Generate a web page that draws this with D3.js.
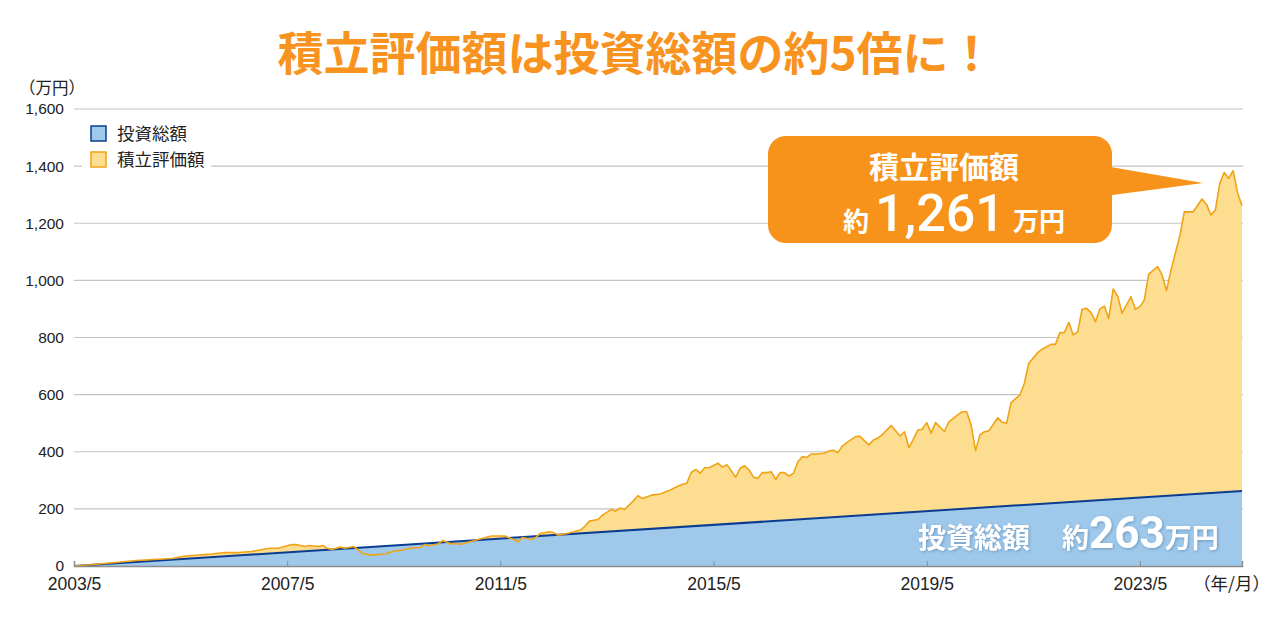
<!DOCTYPE html>
<html>
<head>
<meta charset="utf-8">
<script src="https://cdn.jsdelivr.net/npm/d3@7"></script>
<style>
  body { margin: 0; background: #fff; }
  text { font-family: "Liberation Sans", Arial, sans-serif; }
  .jp { font-family: "Noto Sans CJK JP", sans-serif; }
  .num { font-family: Roboto, "Liberation Sans", sans-serif; }
</style>
</head>
<body>
<div id="wrapper"></div>
<script>
// months counted from 2003/5 (0 = 2003/5)
const valMonths = [0,7,14,22,25,31,34,37,40,44,46,49,50,52,53,55,56,57,58,60,61,63,65,67,70,72,74,76,78,79,80,82,83,85,86,87,89,91,94,97,99,100,101,103,104,105,107,108,109,111,114,115,116,118,119,121,122,123,124,125,126,127,128,130,132,134,135,137,138,139,140,141,142,143,145,146,147,149,150,151,152,153,154,155,156,157,158,159,160,161,162,163,164,165,166,167,169,170,171,172,173,174,176,177,178,179,180,181,182,184,186,187,188,189,190,191,192,193,194,196,197,199,200,201,202,203,204,205,206,208,209,210,211,213,214,215,217,218,220,221,222,223,224,225,226,227,228,229,230,231,232,233,234,235,236,238,239,240,241,242,244,245,246,247,249,250,252,254,255,256,257,258,259,260,261,262,263]
const valValues = [0,9,19,26,35,42,47,47,51,62,62,75,75,68,72,68,72,62,58,66,62,68,44,38,42,52,56,63,65,75,71,77,89,77,79,76,84,93,105,105,93,86,100,93,100,114,120,117,108,114,126,138,157,163,178,198,192,203,198,213,229,246,236,248,252,264,272,286,290,328,338,325,344,344,360,346,355,311,342,351,336,311,307,327,327,330,303,327,327,315,325,365,383,380,392,392,395,403,405,397,420,432,453,454,438,424,441,448,460,492,455,470,414,444,476,479,502,465,502,471,505,529,540,540,494,404,459,470,473,519,503,500,572,599,640,710,747,759,776,776,817,817,853,809,820,899,902,887,855,900,910,867,970,945,885,943,899,908,931,1022,1048,1019,964,1036,1155,1240,1240,1285,1266,1229,1246,1340,1378,1357,1384,1307,1261]

const investMonths = [0, 263]
const investValues = [0, 263]

const yTicks = [0, 200, 400, 600, 800, 1000, 1200, 1400, 1600]
const xTicks = [0, 48, 96, 144, 192, 240]
const legendLabels = ["投資総額", "積立評価額"]

const valuation = valMonths.map((m, i) => [m, valValues[i]])
const invested = investMonths.map((m, i) => [m, investValues[i]])

const width = 1280
const height = 620
const plot = { left: 74, right: 1242, top: 109, bottom: 566 }

const svg = d3.select("#wrapper")
  .append("svg")
    .attr("width", width)
    .attr("height", height)

const defs = svg.append("defs")
const shadow = defs.append("filter")
    .attr("id", "shadow")
    .attr("x", "-10%").attr("y", "-20%")
    .attr("width", "120%").attr("height", "140%")
shadow.append("feDropShadow")
    .attr("dx", 1).attr("dy", 1)
    .attr("stdDeviation", 1.5)
    .attr("flood-color", "#3f6f9f")
    .attr("flood-opacity", 0.55)

const xScale = d3.scaleLinear()
  .domain([0, 263])
  .range([plot.left, plot.right])

const yScale = d3.scaleLinear()
  .domain([0, 1600])
  .range([plot.bottom, plot.top])

// grid
svg.append("g")
  .selectAll("line")
  .data(yTicks.slice(1))
  .enter().append("line")
    .attr("x1", plot.left)
    .attr("x2", plot.right + 1)
    .attr("y1", d => yScale(d))
    .attr("y2", d => yScale(d))
    .attr("stroke", "#c4c4c4")
    .attr("stroke-width", 1.2)

const area = d3.area()
  .x(d => xScale(d[0]))
  .y0(yScale(0))
  .y1(d => yScale(d[1]))

const line = d3.line()
  .x(d => xScale(d[0]))
  .y(d => yScale(d[1]))

svg.append("path")
  .datum(valuation)
  .attr("d", area)
  .attr("fill", "#fddd8f")

svg.append("path")
  .datum(invested)
  .attr("d", area)
  .attr("fill", "#9fc9eb")

svg.append("path")
  .datum(invested)
  .attr("d", line)
  .attr("fill", "none")
  .attr("stroke", "#0a3d91")
  .attr("stroke-width", 2)

svg.append("path")
  .datum(valuation)
  .attr("d", line)
  .attr("fill", "none")
  .attr("stroke", "#f0a316")
  .attr("stroke-width", 1.6)
  .attr("stroke-linejoin", "round")

// x axis
const monthLabel = m => `${2003 + Math.floor((4 + m) / 12)}/${(4 + m) % 12 + 1}`

const xAxis = svg.append("g")
  .attr("transform", `translate(0, ${plot.bottom})`)
  .call(d3.axisBottom(xScale)
    .tickValues(xTicks)
    .tickSize(-5)
    .tickPadding(12)
    .tickFormat(monthLabel))
xAxis.select(".domain")
  .attr("stroke", "#8c8c8c")
  .attr("stroke-width", 1.5)
xAxis.selectAll(".tick line").attr("stroke", "#8c8c8c")
xAxis.selectAll(".tick text")
  .attr("font-size", 17.5)
  .attr("fill", "#222")
  .attr("font-family", "'Liberation Sans', Arial, sans-serif")

svg.append("text")
  .attr("class", "jp")
  .attr("x", 1270)
  .attr("y", 590)
  .attr("text-anchor", "end")
  .attr("font-size", 17.5)
  .attr("fill", "#222")
  .text("（年/月）")

// y axis
const yAxis = svg.append("g")
  .attr("transform", `translate(${plot.left}, 0)`)
  .call(d3.axisLeft(yScale)
    .tickValues(yTicks)
    .tickSize(0)
    .tickPadding(10)
    .tickFormat(d3.format(",")))
yAxis.select(".domain").remove()
yAxis.selectAll(".tick text")
  .attr("font-size", 15.5)
  .attr("fill", "#222")
  .attr("font-family", "'Liberation Sans', Arial, sans-serif")

svg.append("text")
  .attr("class", "jp")
  .attr("x", 19)
  .attr("y", 94)
  .attr("font-size", 16.5)
  .attr("fill", "#222")
  .text("（万円）")

// legend
const legend = svg.append("g")
legend.append("rect")
  .attr("x", 82).attr("y", 117)
  .attr("width", 129).attr("height", 56)
  .attr("fill", "#fff")

const legendColors = [
  { fill: "#9fc9eb", stroke: "#0a3d91" },
  { fill: "#fddd8f", stroke: "#f0a316" }
]
legendLabels.forEach((label, i) => {
  legend.append("rect")
    .attr("x", 91).attr("y", 126 + i * 26)
    .attr("width", 15).attr("height", 15)
    .attr("fill", legendColors[i].fill)
    .attr("stroke", legendColors[i].stroke)
    .attr("stroke-width", 1.5)
  legend.append("text")
    .attr("class", "jp")
    .attr("x", 117)
    .attr("y", 140 + i * 26)
    .attr("font-size", 17.5)
    .attr("fill", "#222")
    .text(label)
})

// title
svg.append("text")
  .attr("class", "jp")
  .attr("x", 636)
  .attr("y", 70)
  .attr("text-anchor", "middle")
  .attr("font-size", 46)
  .attr("font-weight", 700)
  .attr("fill", "#f7931e")
  .text("積立評価額は投資総額の約5倍に！")

// callout
const last = valuation[valuation.length - 1]
const callout = svg.append("g")
callout.append("path")
  .attr("d", `M1105,166 L1203,183 L1105,196 Z`)
  .attr("fill", "#f7931a")
callout.append("rect")
  .attr("x", 768).attr("y", 136)
  .attr("width", 344).attr("height", 107)
  .attr("rx", 18)
  .attr("fill", "#f7931a")
callout.append("text")
  .attr("class", "jp")
  .attr("x", 944)
  .attr("y", 178)
  .attr("text-anchor", "middle")
  .attr("font-size", 30)
  .attr("font-weight", 700)
  .attr("fill", "#fff")
  .text("積立評価額")
const calloutValue = callout.append("text")
  .attr("x", 843)
  .attr("y", 231)
  .attr("fill", "#fff")
calloutValue.append("tspan")
  .attr("class", "jp")
  .attr("font-size", 26)
  .attr("font-weight", 700)
  .text("約")
calloutValue.append("tspan")
  .attr("class", "num")
  .attr("dx", 6)
  .attr("font-size", 52)
  .attr("font-weight", 500)
  .text(d3.format(",")(last[1]))
calloutValue.append("tspan")
  .attr("class", "jp")
  .attr("dx", 8)
  .attr("font-size", 26)
  .attr("font-weight", 700)
  .text("万円")

// invested total label
const investLast = invested[invested.length - 1]
svg.append("text")
  .attr("class", "jp")
  .attr("x", 918)
  .attr("y", 548)
  .attr("font-size", 28)
  .attr("font-weight", 700)
  .attr("fill", "#fff")
  .attr("filter", "url(#shadow)")
  .text("投資総額")
const investText = svg.append("text")
  .attr("x", 1062)
  .attr("y", 548)
  .attr("fill", "#fff")
  .attr("filter", "url(#shadow)")
investText.append("tspan")
  .attr("class", "jp")
  .attr("font-size", 27)
  .attr("font-weight", 700)
  .text("約")
investText.append("tspan")
  .attr("class", "num")
  .attr("font-size", 44)
  .attr("font-weight", 700)
  .text(investLast[1])
investText.append("tspan")
  .attr("class", "jp")
  .attr("font-size", 27)
  .attr("font-weight", 700)
  .text("万円")
</script>
</body>
</html>
